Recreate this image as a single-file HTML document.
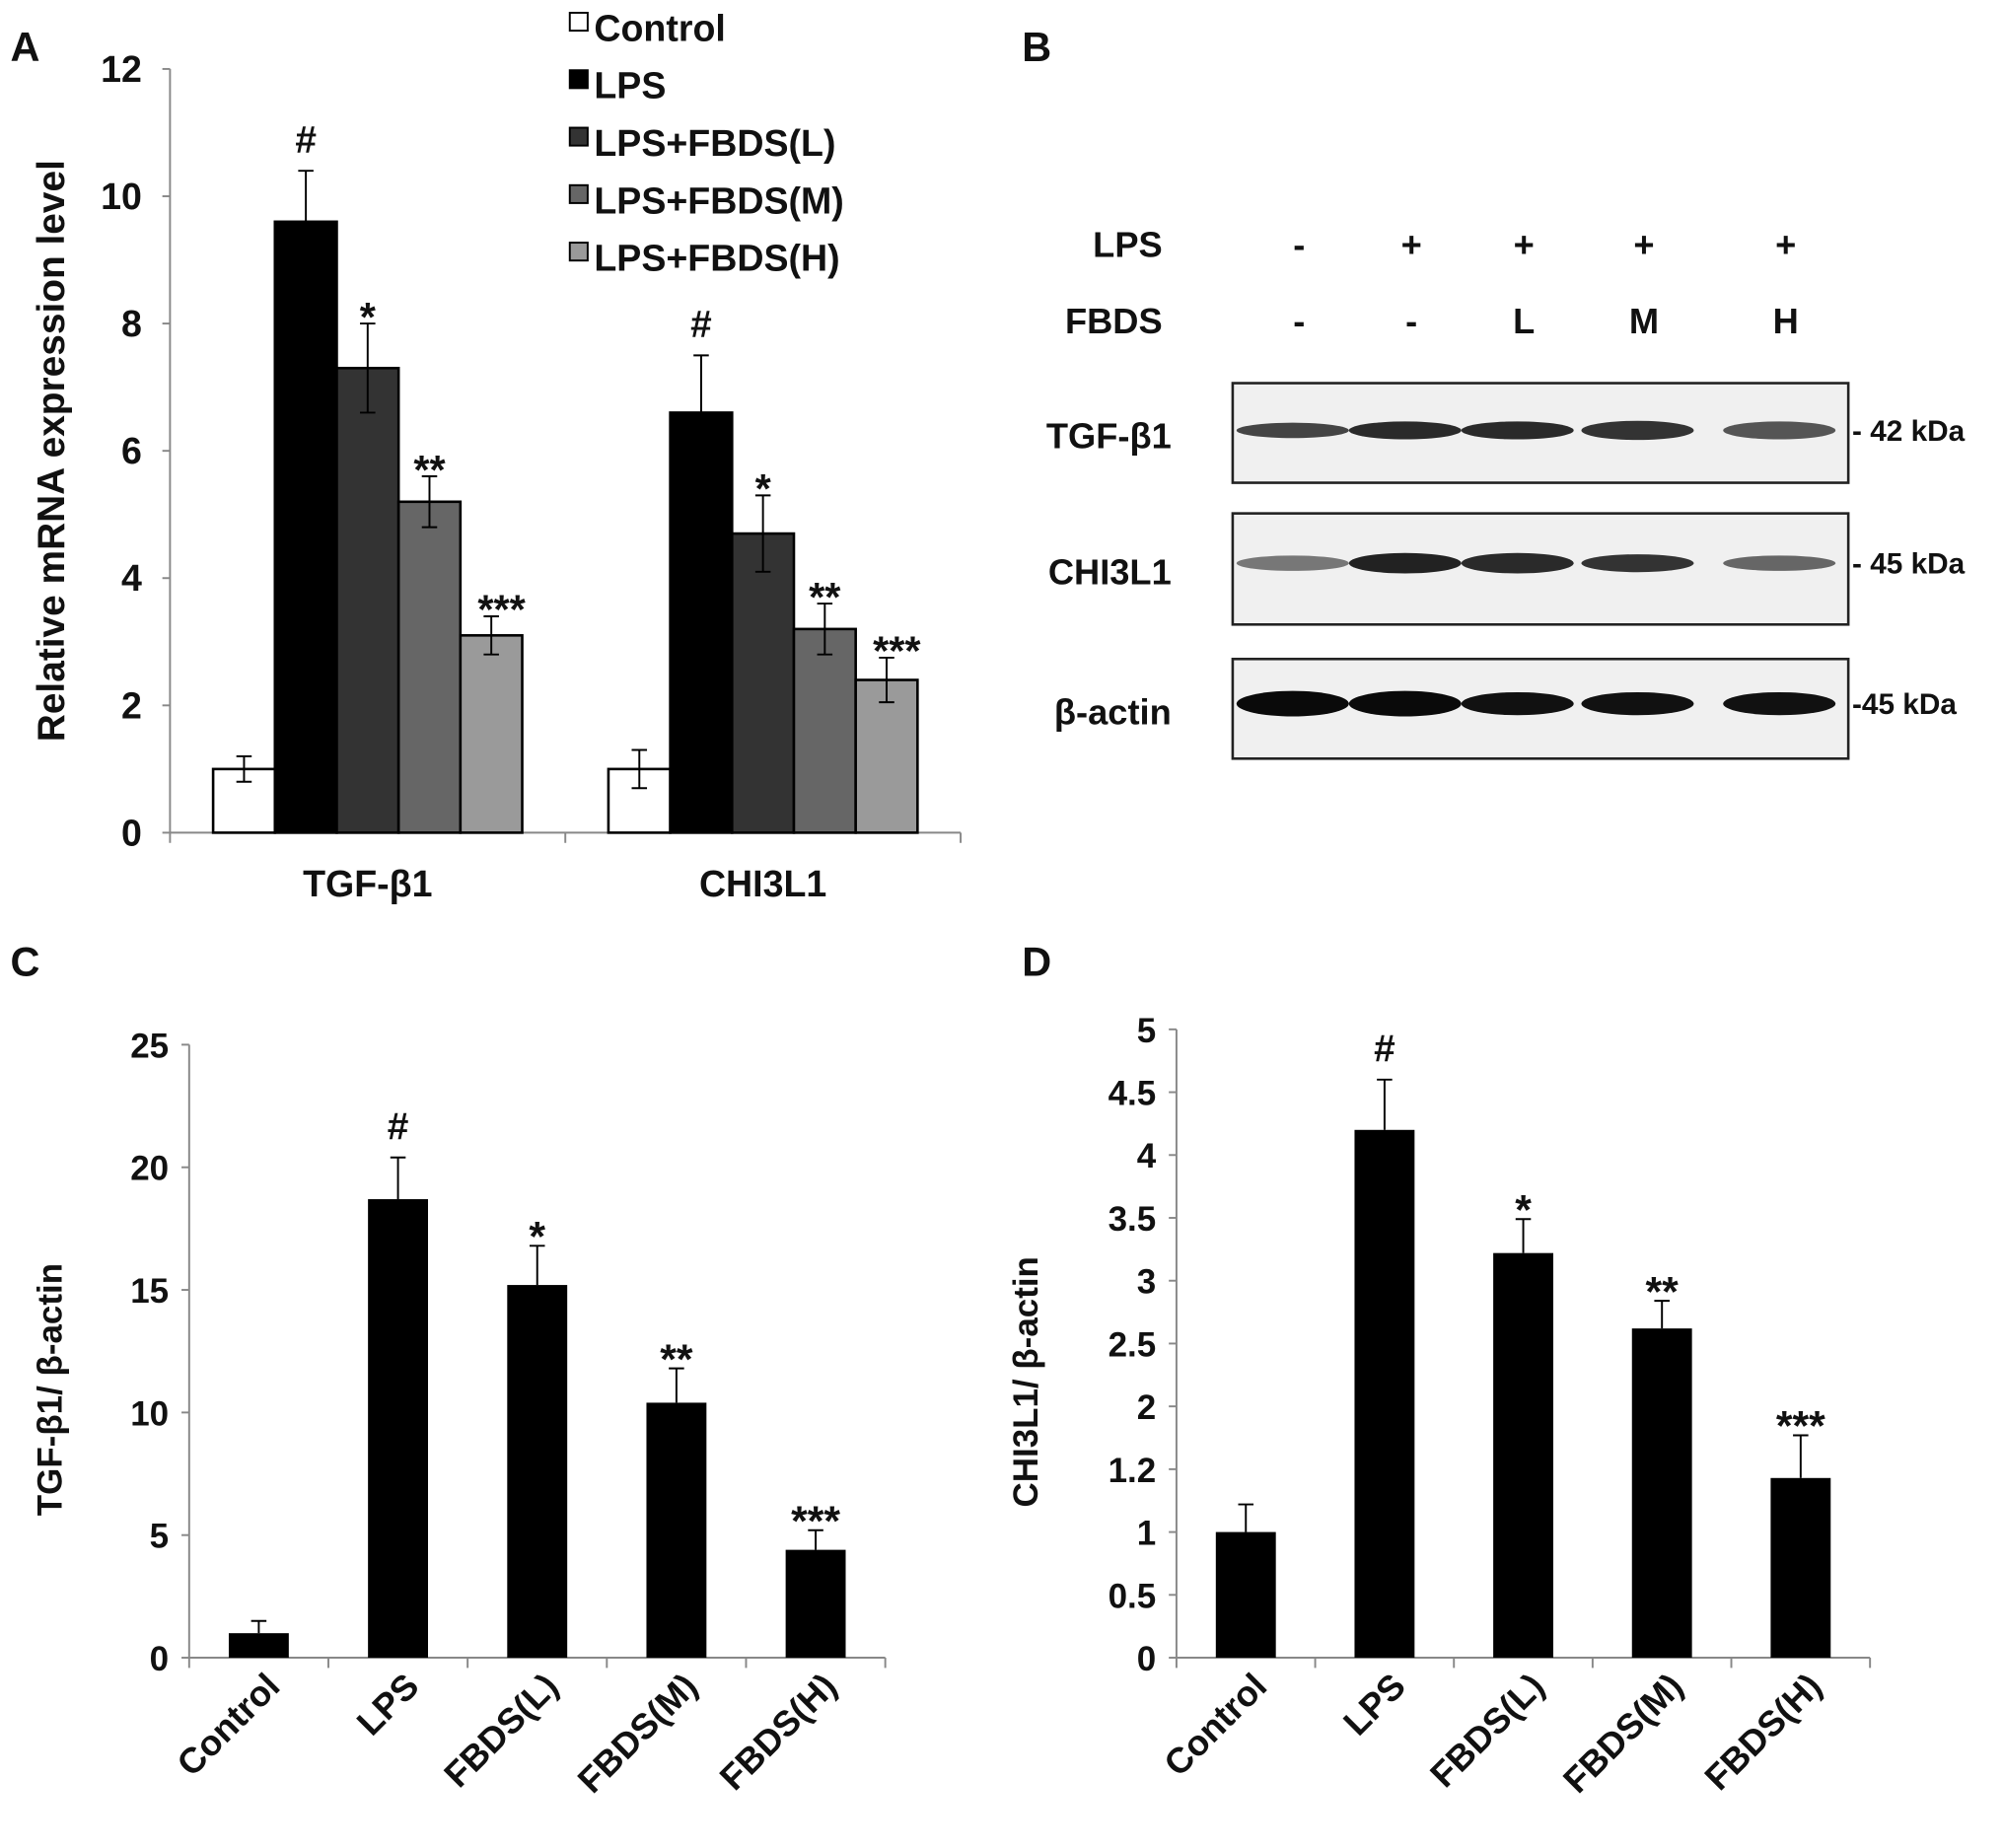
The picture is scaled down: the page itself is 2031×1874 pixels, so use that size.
<!DOCTYPE html>
<html><head><meta charset="utf-8"><style>
html,body{margin:0;padding:0;background:#fff}
svg{display:block}
text{font-family:"Liberation Sans",sans-serif;font-weight:bold;fill:#111}
</style></head><body>
<svg id="fig" width="2031" height="1874" viewBox="0 0 1568 1447" xmlns="http://www.w3.org/2000/svg">
<g id="pa"></g>
<g id="pb"></g>
<g id="pc"></g>
<g id="pd"></g>
</svg>
<script>
// Panel A data
const aCategories = ["TGF-β1", "CHI3L1"];
const aSeries = ["Control", "LPS", "LPS+FBDS(L)", "LPS+FBDS(M)", "LPS+FBDS(H)"];
const aTgf = [1, 9.6, 7.3, 5.2, 3.1];
const aTgfErr = [0.2, 0.8, 0.7, 0.4, 0.3];
const aChi = [1, 6.6, 4.7, 3.2, 2.4];
const aChiErr = [0.3, 0.9, 0.6, 0.4, 0.35];
const aMarks = [["", "#", "*", "**", "***"], ["", "#", "*", "**", "***"]];
const aTicks = [0, 2, 4, 6, 8, 10, 12];
// Panel C data
const cCategories = ["Control", "LPS", "FBDS(L)", "FBDS(M)", "FBDS(H)"];
const cValues = [1, 18.7, 15.2, 10.4, 4.4];
const cErr = [0.5, 1.7, 1.6, 1.4, 0.8];
const cMarks = ["", "#", "*", "**", "***"];
const cTicks = [0, 5, 10, 15, 20, 25];
// Panel D data
const dCategories = ["Control", "LPS", "FBDS(L)", "FBDS(M)", "FBDS(H)"];
const dValues = [1, 4.2, 3.22, 2.62, 1.43];
const dErr = [0.22, 0.4, 0.27, 0.22, 0.34];
const dMarks = ["", "#", "*", "**", "***"];
const dTicks = [0, 0.5, 1, 1.5, 2, 2.5, 3, 3.5, 4, 4.5, 5];
const dTickLabels = ["0", "0.5", "1", "1.2", "2", "2.5", "3", "3.5", "4", "4.5", "5"];

const NS = "http://www.w3.org/2000/svg";
function mk(parent, tag, attrs, txt) {
  const e = document.createElementNS(NS, tag);
  for (const k in attrs) e.setAttribute(k, attrs[k]);
  if (txt !== undefined) e.textContent = txt;
  parent.appendChild(e);
  return e;
}
const fills = ["#fff", "#000", "#333", "#666", "#9a9a9a"];

// ---------- Panel A ----------
(function () {
  const g = document.getElementById("pa");
  const x0 = 133, y0 = 652, yTop = 54, xEnd = 752;
  const ya = v => y0 - (v / 12) * (y0 - yTop);
  let t = mk(g, "text", { x: 8, y: 48, "font-size": 32 }, "A");
  
  
  let ax = mk(g, "line", { x1: x0, y1: yTop, x2: x0, y2: y0, stroke: "#888", "stroke-width": 1.5 });
  
  
  ax = mk(g, "line", { x1: x0, y1: y0, x2: xEnd, y2: y0, stroke: "#888", "stroke-width": 1.5 });
  
  
  aTicks.forEach(v => {
    const l = mk(g, "line", { x1: x0 - 6, y1: ya(v), x2: x0, y2: ya(v), stroke: "#888", "stroke-width": 1.5 });
    
    
    const tx = mk(g, "text", { x: x0 - 22, y: ya(v) + 10, "font-size": 29, "text-anchor": "end" }, String(v));
    
    
  });
  t = mk(g, "text", { x: 0, y: 0, "font-size": 30, "text-anchor": "middle", transform: "translate(50,353) rotate(-90)" }, "Relative mRNA expression level");
  
  
  const groupW = (xEnd - x0) / 2;
  [x0, x0 + groupW, xEnd].forEach(x => {
    const l = mk(g, "line", { x1: x, y1: y0, x2: x, y2: y0 + 8, stroke: "#888", "stroke-width": 1.5 });
    
    
  });
  const bw = 48.4;
  [[aTgf, aTgfErr], [aChi, aChiErr]].forEach((d, gi) => {
    const cx = x0 + groupW * (gi + 0.5);
    d[0].forEach((v, i) => {
      const bx = cx - 2.5 * bw + i * bw;
      const r = mk(g, "rect", { x: bx, y: ya(v), width: bw, height: y0 - ya(v), fill: fills[i], stroke: "#000", "stroke-width": 2 });
      
      
      const mx = bx + bw / 2, e = d[1][i];
      const eb = mk(g, "path", { d: `M${mx},${ya(v - e)}V${ya(v + e)}M${mx - 6},${ya(v + e)}H${mx + 6}M${mx - 6},${ya(v - e)}H${mx + 6}`, stroke: "#000", "stroke-width": 1.5, fill: "none" });
      
      
      if (aMarks[gi][i]) {
        const isStar = aMarks[gi][i].indexOf("*") >= 0;
        const m = mk(g, "text", { x: mx + (i === 4 ? 8 : 0), y: ya(v + e) - (isStar ? -6 : 14), "font-size": isStar ? 32 : 30, "text-anchor": "middle" }, aMarks[gi][i]);
        
        
      }
    });
    const c = mk(g, "text", { x: cx, y: 702, "font-size": 29, "text-anchor": "middle" }, aCategories[gi]);
    
    
  });
  aSeries.forEach((s, i) => {
    const y = 22 + i * 45;
    const r = mk(g, "rect", { x: 446, y: y - 12, width: 14, height: 14, fill: fills[i], stroke: "#000", "stroke-width": 1.5 });
    
    
    const tx = mk(g, "text", { x: 465, y: y + 10, "font-size": 29 }, s);
    
    
  });
})();

// ---------- Panel B ----------
(function () {
  const g = document.getElementById("pb");
  let t = mk(g, "text", { x: 800, y: 48, "font-size": 32 }, "B");
  
  
  const lanes = [1017, 1105, 1193, 1287, 1398];
  const lps = ["-", "+", "+", "+", "+"], fb = ["-", "-", "L", "M", "H"];
  t = mk(g, "text", { x: 910, y: 201, "font-size": 28, "text-anchor": "end" }, "LPS");
   
  t = mk(g, "text", { x: 910, y: 261, "font-size": 28, "text-anchor": "end" }, "FBDS");
   
  lanes.forEach((x, i) => {
    let a = mk(g, "text", { x: x, y: 201, "font-size": 28, "text-anchor": "middle" }, lps[i]);
     
    a = mk(g, "text", { x: x, y: 261, "font-size": 28, "text-anchor": "middle" }, fb[i]);
     
  });
  const blots = [
    { name: "TGF-β1", y: 300, h: 78, band: 337, kda: "- 42 kDa", w: [6, 7, 7, 7.5, 7], c: ["#444", "#2a2a2a", "#2a2a2a", "#333", "#555"] },
    { name: "CHI3L1", y: 402, h: 87, band: 441, kda: "- 45 kDa", w: [6, 8, 8, 7, 6], c: ["#777", "#222", "#2a2a2a", "#333", "#666"] },
    { name: "β-actin", y: 516, h: 78, band: 551, kda: "-45 kDa", w: [10, 10, 9, 9, 9], c: ["#0a0a0a", "#0a0a0a", "#111", "#111", "#111"] }
  ];
  blots.forEach(b => {
    const r = mk(g, "rect", { x: 965, y: b.y, width: 482, height: b.h, fill: "#f0f0f0", stroke: "#222", "stroke-width": 2 });
    
    
    lanes.forEach((x, i) => {
      const e = mk(g, "ellipse", { cx: x - 5, cy: b.band, rx: 44, ry: b.w[i], fill: b.c[i] });
      
      
    });
    let t1 = mk(g, "text", { x: 917, y: (b.y + b.h / 2) + 12, "font-size": 28, "text-anchor": "end" }, b.name);
     
    t1 = mk(g, "text", { x: 1450, y: b.band + 8, "font-size": 23 }, b.kda);
     
  });
})();

// ---------- Panels C & D ----------
function barPanel(id, label, lx, x0, step, yTopV, yTopPx, ticks, tickLbls, cats, vals, errs, marks, yTitle, titleX) {
  const g = document.getElementById(id);
  const y0 = 1298;
  const ys = v => y0 - (v / yTopV) * (y0 - yTopPx);
  let t = mk(g, "text", { x: lx, y: 764, "font-size": 32 }, label);
   
  const xEnd = x0 + step * cats.length;
  let a = mk(g, "line", { x1: x0, y1: yTopPx, x2: x0, y2: y0, stroke: "#888", "stroke-width": 1.5 });
   
  a = mk(g, "line", { x1: x0, y1: y0, x2: xEnd, y2: y0, stroke: "#888", "stroke-width": 1.5 });
   
  ticks.forEach((v, i) => {
    const l = mk(g, "line", { x1: x0 - 6, y1: ys(v), x2: x0, y2: ys(v), stroke: "#888", "stroke-width": 1.5 });
     
    const tx = mk(g, "text", { x: x0 - 16, y: ys(v) + 10, "font-size": 27, "text-anchor": "end" }, tickLbls[i]);
     
  });
  for (let i = 0; i <= cats.length; i++) {
    const l = mk(g, "line", { x1: x0 + i * step, y1: y0, x2: x0 + i * step, y2: y0 + 8, stroke: "#888", "stroke-width": 1.5 });
     
  }
  t = mk(g, "text", { x: 0, y: 0, "font-size": 27, "text-anchor": "middle", transform: `translate(${titleX},${(y0 + yTopPx) / 2 + 30}) rotate(-90)` }, yTitle);
   
  const bw = 47;
  cats.forEach((c, i) => {
    const cx = x0 + step * (i + 0.5), v = vals[i], e = errs[i];
    const r = mk(g, "rect", { x: cx - bw / 2, y: ys(v), width: bw, height: y0 - ys(v), fill: "#000" });
    
    
    const eb = mk(g, "path", { d: `M${cx},${ys(v)}V${ys(v + e)}M${cx - 6},${ys(v + e)}H${cx + 6}`, stroke: "#000", "stroke-width": 1.5, fill: "none" });
     
    if (marks[i]) {
      const isStar = marks[i].indexOf("*") >= 0;
      const m = mk(g, "text", { x: cx, y: ys(v + e) - (isStar ? -4 : 14), "font-size": isStar ? 33 : 30, "text-anchor": "middle" }, marks[i]);
       
    }
    const cl = mk(g, "text", { x: 0, y: 0, "font-size": 28, "text-anchor": "end", transform: `translate(${cx + 18},${y0 + 24}) rotate(-45)` }, c);
     
  });
}
barPanel("pc", "C", 8, 148, 109, 25, 818, cTicks, cTicks.map(String), cCategories, cValues, cErr, cMarks, "TGF-β1/ β-actin", 48);
barPanel("pd", "D", 800, 921, 108.6, 5, 806, dTicks, dTickLabels, dCategories, dValues, dErr, dMarks, "CHI3L1/ β-actin", 812);
</script>
</body></html>
